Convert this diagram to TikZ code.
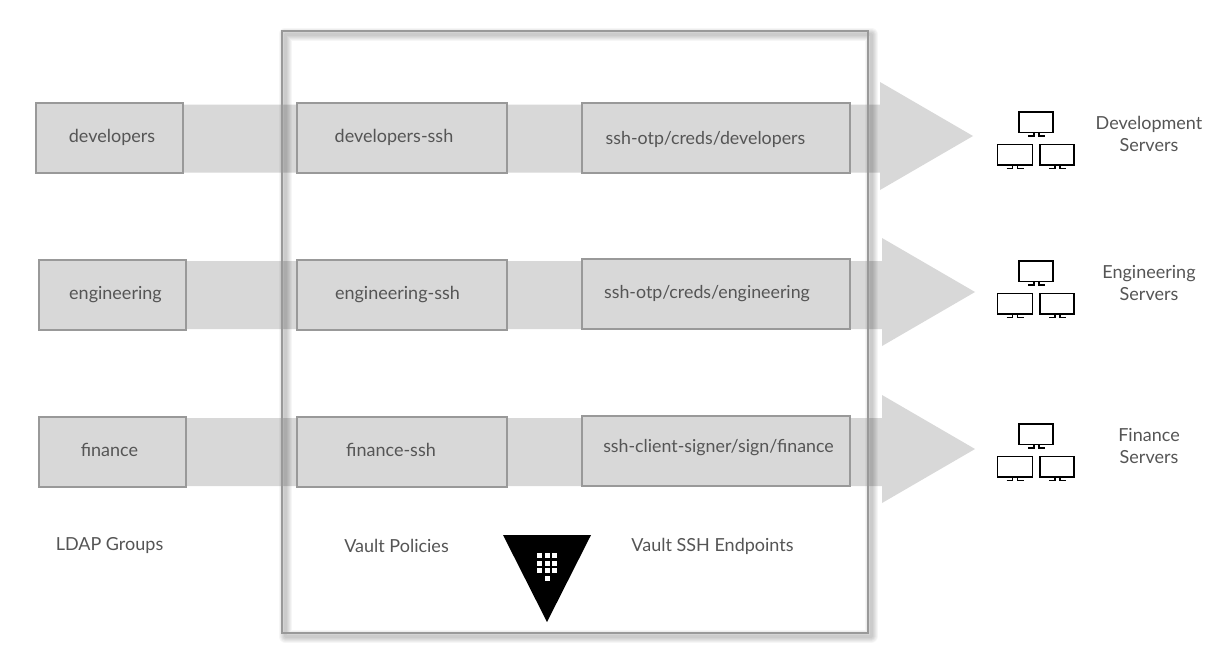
\documentclass[tikz,border=0pt]{standalone}
\usepackage{fontspec}
\setmainfont{Lato}
\definecolor{band}{HTML}{D8D8D8}
\definecolor{edge}{HTML}{999999}
\definecolor{ink}{HTML}{555555}
\tikzset{
  x=1pt,y=-1pt,
  flow/.style={fill=band,draw=none},
  groupbox/.style={draw=edge,line width=1.9pt,fill=band,anchor=north west,inner sep=0pt,outer sep=0pt,minimum height=70pt},
  lbl/.style={text=ink,font=\fontsize{18}{22}\selectfont,inner sep=0pt,align=center},
  lblb/.style={text=ink,font=\fontsize{17.8}{22}\selectfont,inner sep=0pt,align=center},
  glow/.style={draw=black,opacity=0.035,line join=round},
  mon/.style={draw=black,line width=1.5pt,fill=none,line join=miter},
  dot/.style={fill=white,draw=none},
  pics/screen/.style={code={
    \draw[mon] (0,0) rectangle (#1,20.5);
    \draw[mon] (9,24) -- (15,24) -- (15,20.5);
    \draw[mon] (20,20.5) -- (20,24) -- (26,24);
  }},
  pics/servers/.style={code={
    \pic at (1019.2,112.2) {screen=34};
    \pic at (997.7,144.7) {screen=35};
    \pic at (1040.2,144.7) {screen=34};
  }}
}
\newcommand{\flowarrow}[4]{% start x, band centre y, head x, head centre y
  \fill[flow] (#1,#2-34) -- (#3,#2-34) -- (#3,#4-54) -- (#3+93,#4) -- (#3,#4+54) -- (#3,#2+34) -- (#1,#2+34) -- cycle;
}
\begin{document}
\begin{tikzpicture}
\useasboundingbox (0,0) rectangle (1225,654);
\fill[white] (0,0) rectangle (1225,654);
% broad arrows
\flowarrow{37}{138.5}{880}{136}
\flowarrow{40}{295}{882}{292}
\flowarrow{40}{452}{882}{449}
% soft shadow of the policy frame
\foreach \w in {13,11,9,7,5,3}{
  \draw[glow,line width=\w pt] (285,34) rectangle (871,636);
}
\draw[edge,line width=1.9pt] (282,31) rectangle (868,633);
% boxes
\node[groupbox,minimum width=147pt] (g1) at (36,103) {};
\node[groupbox,minimum width=147pt] (g2) at (39,260) {};
\node[groupbox,minimum width=147pt] (g3) at (39,417) {};
\node[groupbox,minimum width=210pt] (p1) at (297,103) {};
\node[groupbox,minimum width=210pt] (p2) at (297,260) {};
\node[groupbox,minimum width=210pt] (p3) at (297,417) {};
\node[groupbox,minimum width=268pt] (e1) at (582,103) {};
\node[groupbox,minimum width=268pt] (e2) at (582,259) {};
\node[groupbox,minimum width=268pt] (e3) at (582,416) {};
% box texts
\node[lbl] (tg1) at (112,137) {developers};
\node[lbl] (tg2) at (115.5,295) {engineering};
\node[lbl] (tg3) at (109.5,450) {finance};
\node[lbl] (tp1) at (394,137) {developers-ssh};
\node[lbl] (tp2) at (397.5,295) {engineering-ssh};
\node[lbl] (tp3) at (391,450) {finance-ssh};
\node[lblb] (te1) at (705.5,139) {ssh-otp/creds/developers};
\node[lblb] (te2) at (707,294) {ssh-otp/creds/engineering};
\node[lblb] (te3) at (718.5,448) {ssh-client-signer/sign/finance};
% server icons
\pic at (0,0) {servers};
\pic at (0,149) {servers};
\pic at (0,312) {servers};
% server labels
\node[lbl] (s1) at (1149,134) {Development\\Servers};
\node[lbl] (s2) at (1149,283) {Engineering\\Servers};
\node[lbl] (s3) at (1149,446) {Finance\\Servers};
% captions
\node[lbl] (c1) at (109.5,546) {LDAP Groups};
\node[lbl] (c2) at (396.5,546) {Vault Policies};
\node[lbl] (c3) at (712.5,546) {Vault SSH Endpoints};
% logo
\fill[black] (503,535) -- (591,535) -- (547,622) -- cycle;
\foreach \y in {553,560.5,568}{
  \foreach \x in {537,544.5,552}{
    \fill[dot] (\x,\y) rectangle ++(5.3,5.3);
  }
}
\fill[dot] (544.5,575.5) rectangle ++(5.3,5.3);
\end{tikzpicture}
\end{document}
